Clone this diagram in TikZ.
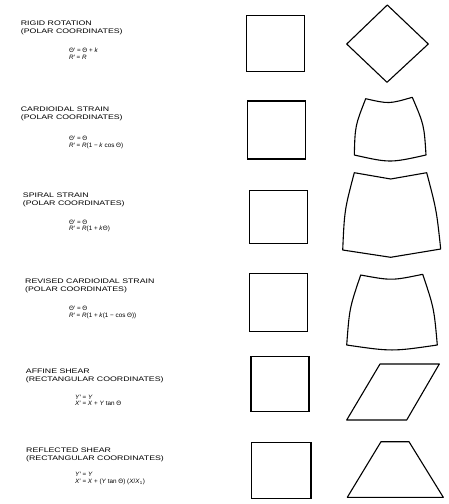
\documentclass[tikz,border=0pt]{standalone}
\usepackage{fontspec}
\usepackage{graphicx}
\usepackage{tikz}
\usetikzlibrary{positioning}
\newfontfamily\scanfont{Liberation Sans}
\newcommand{\headline}[1]{\scalebox{1.33}[1]{#1}}

\begin{document}
\begin{tikzpicture}[x=1pt, y=-1pt,
  heading/.style={anchor=base west, inner sep=0pt, align=left, font=\scanfont\fontsize{6.6}{8}\selectfont},
  formula/.style={anchor=base west, inner sep=0pt, align=left, font=\scanfont\fontsize{6.3}{6.8}\selectfont},
  before/.style={draw, line width=1.1pt, minimum width=58pt, minimum height=56pt, inner sep=0pt},
  after/.style={draw, line width=1.1pt, line join=round},
]
\useasboundingbox (0,0) rectangle (448,504);

% Headings (anchor on the second line)
\node[heading] (rigid) at (20.7,33) {\headline{RIGID ROTATION}\\\headline{(POLAR COORDINATES)}};
\node[heading] (cardio) at (20.7,119) {\headline{CARDIOIDAL STRAIN}\\\headline{(POLAR COORDINATES)}};
\node[heading] (spiral) at (22.7,205.3) {\headline{SPIRAL STRAIN}\\\headline{(POLAR COORDINATES)}};
\node[heading] (revised) at (25,291.3) {\headline{REVISED CARDIOIDAL STRAIN}\\\headline{(POLAR COORDINATES)}};
\node[heading] (affine) at (25.7,381.5) {\headline{AFFINE SHEAR}\\\headline{(RECTANGULAR COORDINATES)}};
\node[heading] (reflect) at (26,460) {\headline{REFLECTED SHEAR}\\\headline{(RECTANGULAR COORDINATES)}};

% Formulas (anchor on the second line)
\node[formula] (rigideq) at (69,59.5) {Θ′ = Θ + \textit{k}\\\textit{R}′ = \textit{R}};
\node[formula] (cardioeq) at (69,147) {Θ′ = Θ\\\textit{R}′ = \textit{R}(1 − \textit{k} cos Θ)};
\node[formula] (spiraleq) at (69,230.8) {Θ′ = Θ\\\textit{R}′ = \textit{R}(1 + \textit{k}Θ)};
\node[formula] (revisedeq) at (69,317.7) {Θ′ = Θ\\\textit{R}′ = \textit{R}(1 + \textit{k}(1 − cos Θ))};
\node[formula] (affineeq) at (75,405.8) {\textit{Y}′ = \textit{Y}\\\textit{X}′ = \textit{X} + \textit{Y} tan Θ};
\node[formula] (reflecteq) at (75,483.7) {\textit{Y}′ = \textit{Y}\\\textit{X}′ = \textit{X} + (\textit{Y} tan Θ) (\textit{X}/\textit{X}\textsubscript{1})};

% Original squares
\node[before] (sq1) at (275.8,43.7) {};
\node[before, minimum height=58pt] (sq2) at (276.8,130) {};
\node[before, minimum height=53.3pt] (sq3) at (278.2,216.7) {};
\node[before, minimum height=57.7pt] (sq4) at (278.8,302.2) {};
\node[before, minimum height=55pt] (sq5) at (280,384.2) {};
\node[before, minimum width=59.3pt] (sq6) at (281.3,470.3) {};

% Transformed shapes
\draw[after] (346.7,44) -- (387.3,5) -- (428.3,44) -- (387,82.3) -- cycle;
\draw[after] (365.7,98.7) .. controls (389,104) .. (412.3,97.3)
  .. controls (424.1,125) .. (426,155)
  .. controls (390,163) .. (354.3,155)
  .. controls (355.1,125.9) .. cycle;
\draw[after] (354.3,172.7) -- (390.7,179) -- (426.7,172.7)
  .. controls (436.5,210) .. (440.7,249)
  .. controls (415.7,254) .. (390.7,257.3)
  .. controls (366.7,254) .. (342.7,250)
  .. controls (344.5,210) .. cycle;
\draw[after] (360.7,275) .. controls (391.7,280.7) .. (422.7,274.3)
  .. controls (434,308) .. (437.3,345)
  .. controls (392,351.6) .. (346.7,345)
  .. controls (349.5,308) .. cycle;
\draw[after] (380,364) -- (439.3,364) -- (406.7,420) -- (346.7,420) -- cycle;
\draw[after] (381,441.7) -- (409,441.7) -- (443.3,497.3) -- (347.3,497.3) -- cycle;

\end{tikzpicture}
\end{document}
